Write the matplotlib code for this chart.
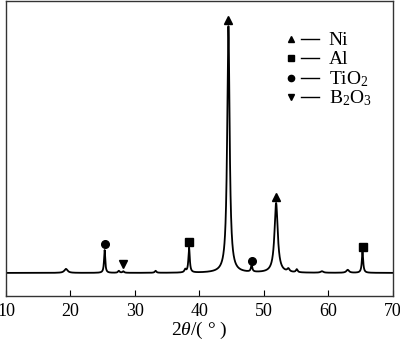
import numpy as np
import matplotlib
matplotlib.use("Agg")
import matplotlib.pyplot as plt

plt.rcParams['font.family'] = ['Liberation Serif', 'DejaVu Serif']
plt.rcParams['mathtext.fontset'] = 'custom'
plt.rcParams['mathtext.rm'] = 'Liberation Serif'
plt.rcParams['mathtext.it'] = 'Liberation Serif:italic'

# peaks: position (2theta), height, FWHM
peak_pos = [19.3, 25.3, 27.5, 28.2, 33.2, 37.8, 38.4, 44.5, 48.1, 51.9, 53.8, 55.1, 59.0, 63.0, 65.3]
peak_height = [4, 23, 2, 1.5, 2, 3, 25, 248, 7, 70, 3, 3, 1.5, 3, 21]
peak_width = [0.6, 0.22, 0.3, 0.3, 0.3, 0.3, 0.25, 0.45, 0.25, 0.6, 0.4, 0.3, 0.5, 0.5, 0.25]

# phase markers: position, y of marker
ni_x, ni_y = [44.5, 51.9], [254, 76]
al_x, al_y = [38.4, 65.3], [31, 26]
tio2_x, tio2_y = [25.3, 48.1], [29, 12]
b2o3_x, b2o3_y = [28.2], [9]

legend_markers = ['^', 's', 'o', 'v']
legend_labels = ['Ni', 'Al', r'TiO$_2$', r'B$_2$O$_3$']

two_theta = np.linspace(10, 70, 3000)
intensity = np.zeros_like(two_theta)
for p, h, w in zip(peak_pos, peak_height, peak_width):
    intensity += h / (1 + ((two_theta - p) / (w / 2)) ** 2)

fig = plt.figure(figsize=(4.0, 3.42), dpi=100)
ax = fig.add_axes([0.015, 0.135, 0.967, 0.862])
ax.plot(two_theta, intensity, color='black', lw=1.3)

ms = 5.5
ax.plot(ni_x, ni_y, '^', color='black', ms=ms, ls='none')
ax.plot(al_x, al_y, 's', color='black', ms=ms, ls='none')
ax.plot(tio2_x, tio2_y, 'o', color='black', ms=ms, ls='none')
ax.plot(b2o3_x, b2o3_y, 'v', color='black', ms=ms, ls='none')

ax.set_xlim(10, 70)
ax.set_ylim(-23, 273)
ax.set_xticks([10, 20, 30, 40, 50, 60, 70])
ax.set_yticks([])
ax.tick_params(axis='x', direction='in', length=4, labelsize=13, pad=5)
for s in ax.spines.values():
    s.set_color('#333333')
    s.set_linewidth(1.0)
ax.set_xlabel(r'$2\theta$/( ° )', fontsize=14, labelpad=0)

# legend drawn by hand: marker, dash, label
for i, (m, lab) in enumerate(zip(legend_markers, legend_labels)):
    yb = 0.851 - i * 0.0659
    ax.plot([0.736], [yb + 0.02], marker=m, color='black', ms=4.5,
            transform=ax.transAxes, clip_on=False)
    ax.plot([0.762, 0.808], [yb + 0.02, yb + 0.02], color='black', lw=1.0,
            transform=ax.transAxes)
    ax.text(0.834, yb, lab, fontsize=14, transform=ax.transAxes, va='baseline', ha='left')

fig.savefig('out.png', dpi=100)
